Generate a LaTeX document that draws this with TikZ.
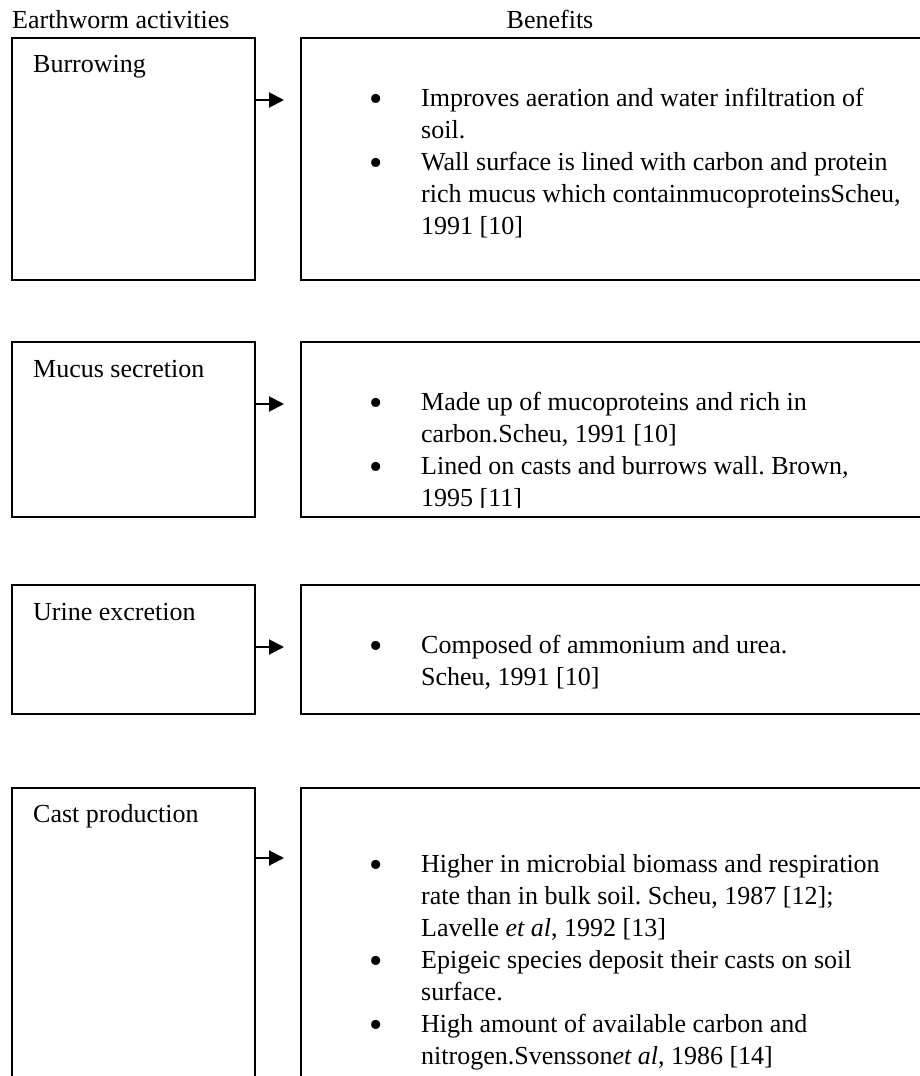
\documentclass[tikz,border=0pt]{standalone}
\usepackage{fontspec}
\setmainfont{Liberation Serif}
\usepackage{tikz}
\usetikzlibrary{arrows.meta}
\usetikzlibrary{positioning}
\frenchspacing
\tikzstyle{actbox}=[draw=black, line width=1.6pt, shape=rectangle, anchor=north west, outer sep=0pt, inner sep=0pt, minimum width=243pt]
\tikzstyle{benbox}=[draw=black, line width=1.6pt, shape=rectangle, anchor=north west, outer sep=0pt, inner sep=0pt, minimum width=640pt]
\tikzstyle{boxlabel}=[anchor=base west, inner sep=0pt]
\tikzstyle{bentext}=[anchor=base west, inner sep=0pt]
\tikzstyle{flowarrow}=[-{Triangle[length=15pt, width=15pt]}, line width=2pt, color=black]
\newcommand{\benbullet}{\raisebox{-5pt}{\fontsize{38}{32}\selectfont •}}
\newcommand{\benlist}[1]{\begin{tabular}[t]{@{}p{51.7pt}@{}l@{}}#1\end{tabular}}

\begin{document}
\begin{tikzpicture}[x=1pt, y=-1pt, font=\fontsize{26}{32}\selectfont]
\clip (0,0) rectangle (920,1076);

\node [boxlabel] (acthead) at (12,28) {Earthworm activities};
\node [anchor=base, inner sep=0pt] (benhead) at (550,28) {Benefits};

\node [actbox, minimum height=242pt] (burrowing) at (12,38) {};
\node [benbox, minimum height=242pt] (burrowingben) at (301,38) {};
\node [boxlabel] (burrowingtxt) at ([xshift=21pt, yshift=-34pt]burrowing.north west) {Burrowing};
\node [bentext] (burrowingpts) at ([xshift=68.3pt, yshift=-68pt]burrowingben.north west) {\benlist{%
\benbullet & Improves aeration and water infiltration of\\
  & soil.\\
\benbullet & Wall surface is lined with carbon and protein\\
  & rich mucus which containmucoproteinsScheu,\\
  & 1991 [10]}};

\node [actbox, minimum height=175pt] (mucus) at (12,342) {};
\node [benbox, minimum height=175pt] (mucusben) at (301,342) {};
\node [boxlabel] (mucustxt) at ([xshift=21pt, yshift=-35pt]mucus.north west) {Mucus secretion};
\begin{scope}
\clip (mucusben.north west) rectangle ([yshift=10pt]mucusben.south east);
\node [bentext] (mucuspts) at ([xshift=68.3pt, yshift=-68pt]mucusben.north west) {\benlist{%
\benbullet & Made up of mucoproteins and rich in\\
  & carbon.Scheu, 1991 [10]\\
\benbullet & Lined on casts and burrows wall. Brown,\\
  & 1995 [11]}};
\end{scope}

\node [actbox, minimum height=129pt] (urine) at (12,585) {};
\node [benbox, minimum height=129pt] (urineben) at (301,585) {};
\node [boxlabel] (urinetxt) at ([xshift=21pt, yshift=-35pt]urine.north west) {Urine excretion};
\node [bentext] (urinepts) at ([xshift=68.3pt, yshift=-68pt]urineben.north west) {\benlist{%
\benbullet & Composed of ammonium and urea.\\
  & Scheu, 1991 [10]}};

\node [actbox, minimum height=300pt] (cast) at (12,788) {};
\node [benbox, minimum height=300pt] (castben) at (301,788) {};
\node [boxlabel] (casttxt) at ([xshift=21pt, yshift=-34pt]cast.north west) {Cast production};
\node [bentext] (castpts) at ([xshift=68.3pt, yshift=-84pt]castben.north west) {\benlist{%
\benbullet & Higher in microbial biomass and respiration\\
  & rate than in bulk soil. Scheu, 1987 [12];\\
  & Lavelle \textit{et al}, 1992 [13]\\
\benbullet & Epigeic species deposit their casts on soil\\
  & surface.\\
\benbullet & High amount of available carbon and\\
  & nitrogen.Svensson\textit{et al}, 1986 [14]}};

\draw [flowarrow] ([yshift=-62pt]burrowing.north east) -- ([xshift=-17pt, yshift=-62pt]burrowingben.north west);
\draw [flowarrow] ([yshift=-62pt]mucus.north east) -- ([xshift=-17pt, yshift=-62pt]mucusben.north west);
\draw [flowarrow] ([yshift=-62pt]urine.north east) -- ([xshift=-17pt, yshift=-62pt]urineben.north west);
\draw [flowarrow] ([yshift=-70pt]cast.north east) -- ([xshift=-17pt, yshift=-70pt]castben.north west);
\end{tikzpicture}
\end{document}
